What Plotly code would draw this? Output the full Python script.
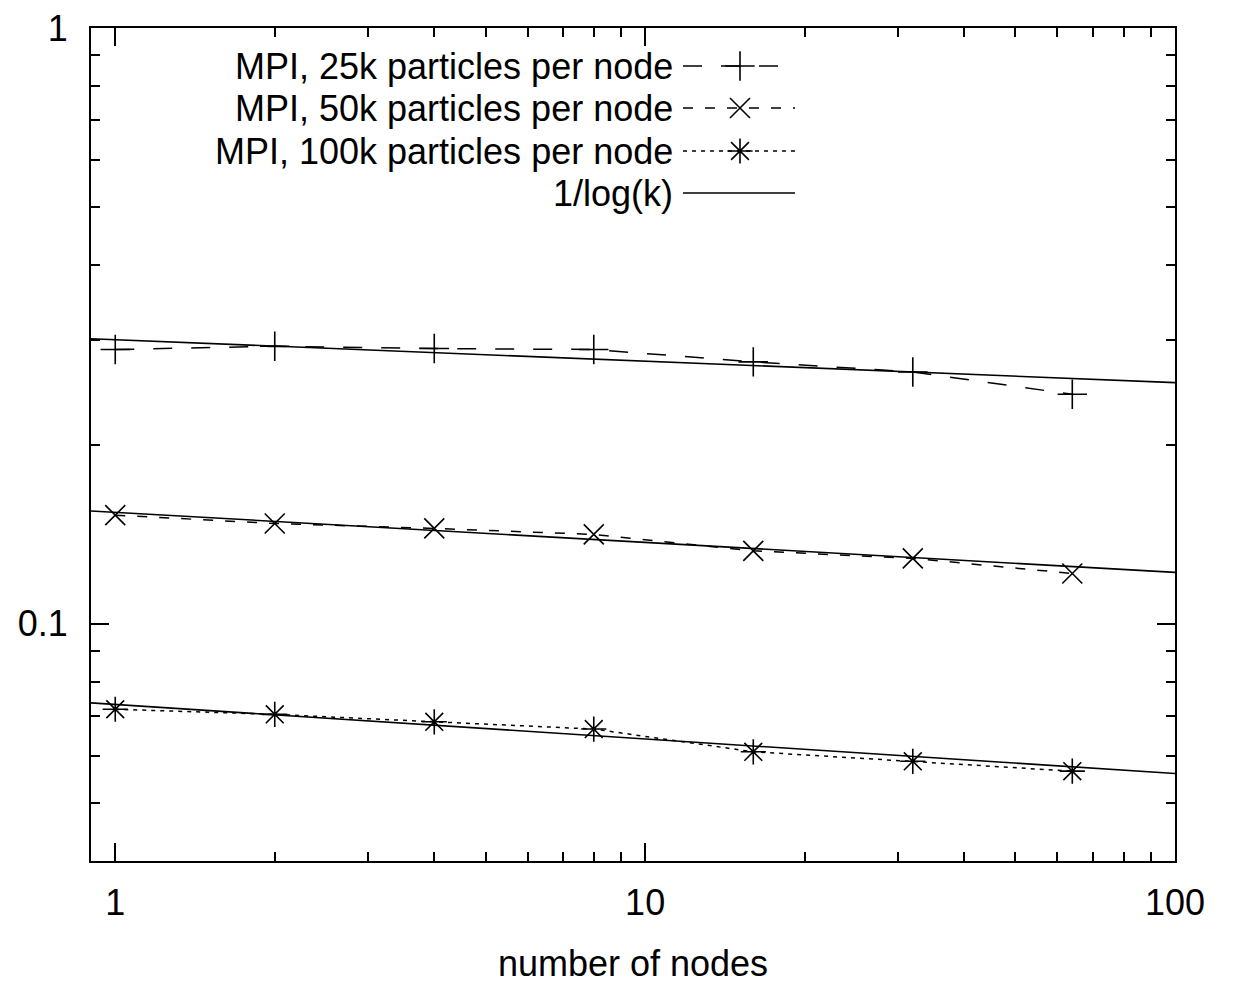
import plotly.graph_objects as go

# Measured scaling results: parallel efficiency per node count
nodes = [1, 2, 4, 8, 16, 32, 64]
mpi_25k = [0.2887, 0.2923, 0.2898, 0.2887, 0.2752, 0.2647, 0.2428]
mpi_50k = [0.1522, 0.1474, 0.1446, 0.1413, 0.1326, 0.1288, 0.1215]
mpi_100k = [0.0719, 0.0705, 0.0685, 0.0666, 0.0610, 0.0588, 0.0566]

# 1/log(k) reference curves, sampled at the ends of the node range
ref_nodes = [0.9, 100]
ref_25k = [0.301, 0.254]
ref_50k = [0.1547, 0.1220]
ref_100k = [0.0737, 0.0561]

series_names = [
    "MPI, 25k particles per node",
    "MPI, 50k particles per node",
    "MPI, 100k particles per node",
    "1/log(k)",
]

x_ticks = [1, 10, 100]
x_ticktext = ["1", "10", "100"]
x_minor = [2, 3, 4, 5, 6, 7, 8, 9, 20, 30, 40, 50, 60, 70, 80, 90]
y_ticks = [0.1, 1]
y_ticktext = ["0.1", "1"]
y_minor = [0.04, 0.05, 0.06, 0.07, 0.08, 0.09, 0.2, 0.3, 0.4, 0.5, 0.6, 0.7, 0.8, 0.9]

FONT = "Liberation Sans, Arial, Helvetica, sans-serif"
FS = 36
W, H = 1239, 984
ML, MR, MT, MB = 91, 64, 28, 123
PW, PH = W - ML - MR, H - MT - MB

styles = [
    dict(dash="19px,19px", symbol="cross-thin-open", size=21),
    dict(dash="10px,12px", symbol="x-thin-open", size=20),
    dict(dash="4px,5px", symbol="asterisk-open", size=21),
]

fig = go.Figure()

for ys, st in zip([mpi_25k, mpi_50k, mpi_100k], styles):
    fig.add_trace(go.Scatter(
        x=nodes, y=ys, mode="lines+markers",
        line=dict(color="black", width=1.5, dash=st["dash"]),
        marker=dict(symbol=st["symbol"], size=st["size"], color="black",
                    line=dict(color="black", width=1.6)),
        showlegend=False, hoverinfo="skip",
    ))

for ys in [ref_25k, ref_50k, ref_100k]:
    fig.add_trace(go.Scatter(
        x=ref_nodes, y=ys, mode="lines",
        line=dict(color="black", width=1.6),
        showlegend=False, hoverinfo="skip",
    ))


# Key drawn in pixel space on an overlay axis pair
def fx(px):
    return (px - ML) / PW


def fy(py):
    return (H - MB - py) / PH


key_rows = [66, 108, 151, 193]
key_text_right = 675
key_x0, key_x1, key_mid = 683, 795, 740

for i, (name, row) in enumerate(zip(series_names, key_rows)):
    fig.add_annotation(
        x=fx(key_text_right), y=fy(row), xref="x2", yref="y2",
        text=name, showarrow=False, xanchor="right", yanchor="middle",
        font=dict(family=FONT, size=FS, color="black"),
    )
    if i < 3:
        st = styles[i]
        fig.add_trace(go.Scatter(
            x=[fx(key_x0), fx(key_x1)], y=[fy(row), fy(row)],
            xaxis="x2", yaxis="y2", mode="lines",
            line=dict(color="black", width=1.5, dash=st["dash"]),
            showlegend=False, hoverinfo="skip",
        ))
        fig.add_trace(go.Scatter(
            x=[fx(key_mid)], y=[fy(row)], xaxis="x2", yaxis="y2",
            mode="markers",
            marker=dict(symbol=st["symbol"], size=st["size"], color="black",
                        line=dict(color="black", width=1.6)),
            showlegend=False, hoverinfo="skip",
        ))
    else:
        fig.add_trace(go.Scatter(
            x=[fx(key_x0), fx(key_x1)], y=[fy(row), fy(row)],
            xaxis="x2", yaxis="y2", mode="lines",
            line=dict(color="black", width=1.6),
            showlegend=False, hoverinfo="skip",
        ))

axis_common = dict(
    showgrid=False, zeroline=False, automargin=False,
    showline=True, linecolor="black", linewidth=2, mirror="ticks",
    ticks="inside", tickcolor="black", tickwidth=1.5, ticklen=18,
    tickfont=dict(family=FONT, size=FS, color="black"),
)

fig.update_layout(
    width=W, height=H,
    margin=dict(l=ML, r=MR, t=MT, b=MB),
    paper_bgcolor="white", plot_bgcolor="white",
    font=dict(family=FONT, size=FS, color="black"),
    xaxis=dict(
        type="log", range=[-0.045757, 2],
        tickmode="array", tickvals=x_ticks, ticktext=x_ticktext,
        ticklabelstandoff=9,
        minor=dict(tickmode="array", tickvals=x_minor, ticks="inside",
                   ticklen=9, tickwidth=1.5, tickcolor="black", showgrid=False),
        title=dict(text="number of nodes", standoff=33,
                   font=dict(family=FONT, size=FS, color="black")),
        **axis_common,
    ),
    yaxis=dict(
        type="log", range=[-1.39794, 0],
        tickmode="array", tickvals=y_ticks, ticktext=y_ticktext,
        ticklabelstandoff=14,
        minor=dict(tickmode="array", tickvals=y_minor, ticks="inside",
                   ticklen=9, tickwidth=1.5, tickcolor="black", showgrid=False),
        **axis_common,
    ),
    xaxis2=dict(overlaying="x", range=[0, 1], visible=False, fixedrange=True),
    yaxis2=dict(overlaying="y", range=[0, 1], visible=False, fixedrange=True),
)

fig.write_html("out.html")
